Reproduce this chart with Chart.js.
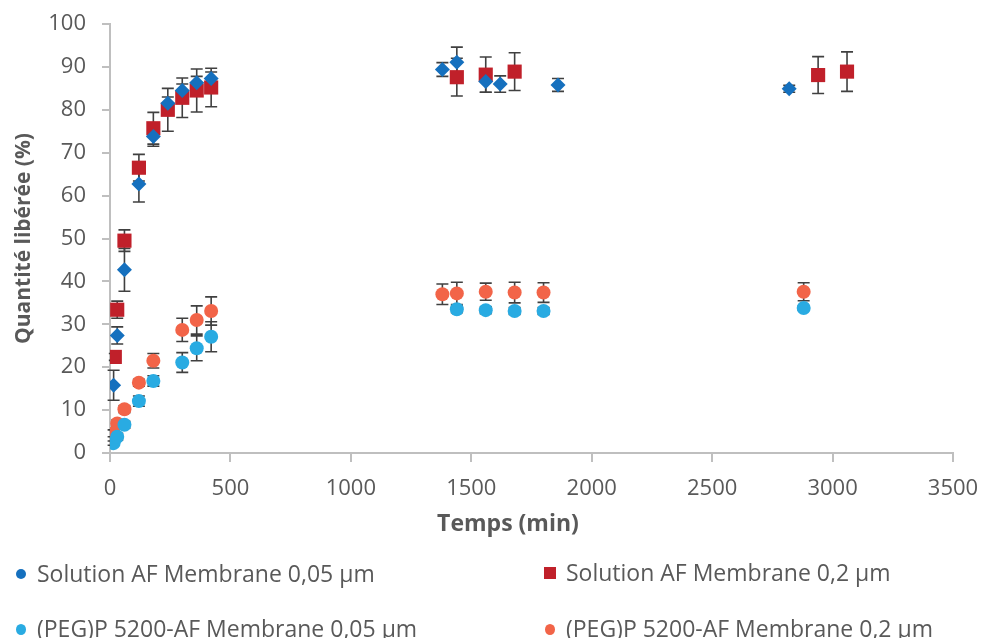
<!DOCTYPE html>
<html>
<head>
<meta charset="utf-8">
<script src="https://cdn.jsdelivr.net/npm/chart.js@4"></script>
<style>
  html, body { margin: 0; padding: 0; background: #fff; }
  #wrap { position: relative; width: 983px; height: 638px; overflow: hidden; }
  #legend { position: absolute; left: 0; top: 0; width: 983px; height: 638px; pointer-events: none;
            font-family: 'Open Sans', sans-serif; font-size: 23px; color: #595959; }
  .item { position: absolute; white-space: nowrap; line-height: 28px; }
  .mk { position: absolute; }
</style>
</head>
<body>
<div id="wrap">
  <canvas id="chart" width="983" height="638"></canvas>
  <div id="legend"></div>
</div>
<script>
// Cumulative release (%) vs time (min)
const t1 = [15, 30, 60, 120, 180, 240, 300, 360, 420, 1380, 1440, 1560, 1620, 1860, 2820];
const y1 = [15.8, 27.4, 42.7, 62.7, 73.8, 81.5, 84.5, 86.3, 87.3, 89.4, 91.1, 86.6, 86.0, 85.8, 84.9];
const e1 = [3.5, 2.0, 5.0, 4.2, 2.3, 1.5, 1.5, 1.5, 1.5, 1.6, 3.5, 2.5, 1.9, 1.5, 0.8];

const t2 = [20, 30, 60, 120, 180, 240, 300, 360, 420, 1440, 1560, 1680, 2940, 3060];
const y2 = [22.4, 33.4, 49.5, 66.5, 75.7, 80.0, 82.8, 84.5, 85.2, 87.6, 88.2, 88.9, 88.1, 88.9];
const e2 = [0.8, 2.0, 2.5, 3.1, 3.7, 5.0, 4.6, 5.0, 4.5, 4.4, 4.1, 4.4, 4.3, 4.6];

const t3 = [15, 30, 60, 120, 180, 300, 360, 420, 1440, 1560, 1680, 1800, 2880];
const y3 = [2.3, 3.8, 6.6, 12.1, 16.8, 21.1, 24.4, 27.1, 33.5, 33.3, 33.1, 33.1, 33.8];
const e3 = [0.5, 0.8, 0.8, 1.2, 1.2, 2.3, 2.9, 3.5, 0.8, 0.8, 0.8, 0.8, 0.5];

const t4 = [15, 30, 60, 120, 180, 300, 360, 420, 1380, 1440, 1560, 1680, 1800, 2880];
const y4 = [4.6, 6.9, 10.2, 16.4, 21.5, 28.7, 31.0, 33.1, 37.0, 37.2, 37.6, 37.4, 37.4, 37.6];
const e4 = [0.8, 0.8, 0.8, 0.8, 1.7, 2.7, 3.3, 3.3, 2.4, 2.6, 2.0, 2.4, 2.3, 2.1];

const labels = [
    'Solution AF Membrane 0,05 µm',
    'Solution AF Membrane 0,2 µm',
    '(PEG)P 5200-AF Membrane 0,05 µm',
    '(PEG)P 5200-AF Membrane 0,2 µm'
];
const colors = ['#1570be', '#c0202a', '#29abe2', '#f26448'];
const xTitle = 'Temps (min)';
const yTitle = 'Quantité libérée (%)';

const pts = (xs, ys, es) => xs.map((x, i) => ({ x: x, y: ys[i], err: es[i] }));

const grey = '#595959';
const axisCol = '#bfbfbf';

// error bars drawn behind the markers, axis titles placed like the original
const extras = {
    id: 'extras',
    beforeDatasetsDraw(chart) {
        const ctx = chart.ctx, xs = chart.scales.x, ys = chart.scales.y;
        ctx.save();
        ctx.strokeStyle = '#404040';
        ctx.lineWidth = 1.6;
        chart.data.datasets.forEach(ds => {
            ds.data.forEach(p => {
                const px = xs.getPixelForValue(p.x);
                const top = ys.getPixelForValue(p.y + p.err);
                const bot = ys.getPixelForValue(p.y - p.err);
                ctx.beginPath();
                ctx.moveTo(px, top); ctx.lineTo(px, bot);
                ctx.moveTo(px - 6, top); ctx.lineTo(px + 6, top);
                ctx.moveTo(px - 6, bot); ctx.lineTo(px + 6, bot);
                ctx.stroke();
            });
        });
        ctx.restore();
    },
    afterDraw(chart) {
        const ctx = chart.ctx, a = chart.chartArea;
        ctx.save();
        ctx.fillStyle = grey;
        ctx.textAlign = 'center';
        ctx.textBaseline = 'middle';
        ctx.font = 'bold 23px "Open Sans"';
        ctx.fillText(xTitle, 508, 524);
        ctx.translate(24, (a.top + a.bottom) / 2);
        ctx.rotate(-Math.PI / 2);
        ctx.font = 'bold 21px "Open Sans"';
        ctx.fillText(yTitle, 0, 0);
        ctx.restore();
    }
};

new Chart(document.getElementById('chart'), {
    type: 'scatter',
    data: {
        datasets: [{
            label: labels[0], data: pts(t1, y1, e1),
            pointStyle: 'rectRot', pointRadius: 7.5,
            backgroundColor: colors[0], borderColor: colors[0], borderWidth: 0,
        }, {
            label: labels[1], data: pts(t2, y2, e2),
            pointStyle: 'rect', pointRadius: 10,
            backgroundColor: colors[1], borderColor: colors[1], borderWidth: 0,
        }, {
            label: labels[2], data: pts(t3, y3, e3),
            pointStyle: 'circle', pointRadius: 7,
            backgroundColor: colors[2], borderColor: colors[2], borderWidth: 0,
        }, {
            label: labels[3], data: pts(t4, y4, e4),
            pointStyle: 'circle', pointRadius: 7,
            backgroundColor: colors[3], borderColor: colors[3], borderWidth: 0,
        }]
    },
    options: {
        responsive: false,
        animation: false,
        layout: { padding: { left: 0, right: 30, top: 24, bottom: 101 } },
        plugins: { legend: { display: false }, tooltip: { enabled: false } },
        scales: {
            x: {
                type: 'linear', min: 0, max: 3500,
                ticks: { stepSize: 500, color: grey, padding: 14, maxRotation: 0,
                         callback: v => String(v),
                         font: { family: 'Open Sans', size: 22 } },
                grid: { drawOnChartArea: false, drawTicks: true, tickLength: 9, color: axisCol, lineWidth: 2 },
                border: { color: axisCol, width: 2 },
                afterFit: s => { s.height = 84; s.paddingLeft = 0; s.paddingRight = 0; }
            },
            y: {
                min: 0, max: 100,
                ticks: { stepSize: 10, color: grey, padding: 16,
                         font: { family: 'Open Sans', size: 22 } },
                grid: { drawOnChartArea: false, drawTicks: true, tickLength: 8, color: axisCol, lineWidth: 2 },
                border: { color: axisCol, width: 2 },
                afterFit: s => { s.width = 110; s.paddingTop = 0; s.paddingBottom = 0; }
            }
        }
    },
    plugins: [extras]
});

// 2 x 2 legend under the plot
const legendPos = [
    { x: 21, y: 574, tx: 37 },
    { x: 550, y: 573, tx: 566 },
    { x: 21, y: 629, tx: 37 },
    { x: 550, y: 629, tx: 566 }
];
const markerCss = [
    'width:10px;height:10px;border-radius:50%;',
    'width:12px;height:12px;',
    'width:10px;height:11px;border-radius:50%;',
    'width:10px;height:11px;border-radius:50%;'
];
const leg = document.getElementById('legend');
labels.forEach((lab, i) => {
    const p = legendPos[i];
    const m = document.createElement('div');
    m.className = 'mk';
    m.style.cssText = markerCss[i] + 'background:' + colors[i] + ';';
    const w = parseFloat(m.style.width), h = parseFloat(m.style.height);
    m.style.left = (p.x - w / 2) + 'px';
    m.style.top = (p.y - h / 2) + 'px';
    leg.appendChild(m);
    const t = document.createElement('div');
    t.className = 'item';
    t.textContent = lab;
    t.style.left = p.tx + 'px';
    t.style.top = (p.y - 15) + 'px';
    leg.appendChild(t);
});
</script>
</body>
</html>
